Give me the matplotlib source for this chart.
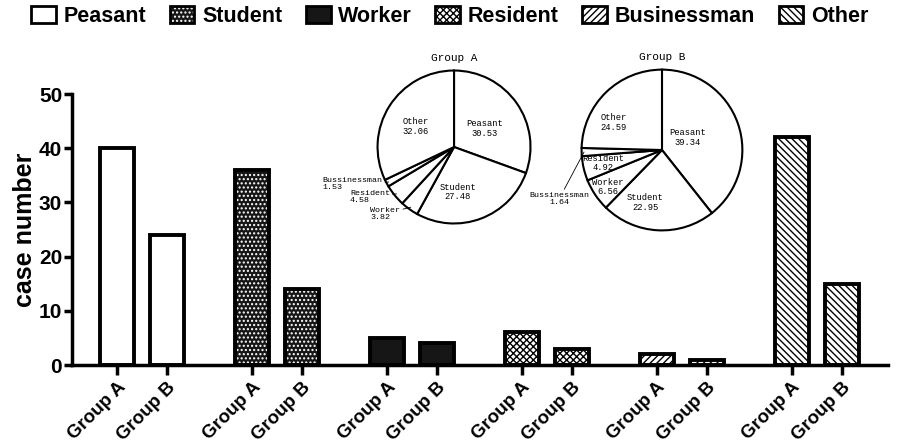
import numpy as np
import matplotlib.pyplot as plt
from matplotlib.patches import Patch

plt.rcParams['font.family'] = ['Liberation Sans', 'DejaVu Sans']
plt.rcParams['font.weight'] = 'bold'
plt.rcParams['hatch.linewidth'] = 1.0

# data
occupations = ['Peasant', 'Student', 'Worker', 'Resident', 'Businessman', 'Other']
pie_names = ['Peasant', 'Student', 'Worker', 'Resident', 'Bussinessman', 'Other']
group_a = [40, 36, 5, 6, 2, 42]
group_b = [24, 14, 4, 3, 1, 15]
group_names = ['Group A', 'Group B']

# fill, hatch, hatch colour for each occupation
styles = [
    ('white', None, 'black'),
    ('#161616', '....', 'white'),
    ('#161616', None, '#161616'),
    ('white', 'xxxxx', 'black'),
    ('white', '/////', 'black'),
    ('white', '\\\\\\\\\\', 'black'),
]

fig = plt.figure(figsize=(9.03, 4.46), dpi=100)
ax = fig.add_axes([0.0797, 0.1816, 0.9033, 0.6076])

x_a = np.arange(len(occupations)) * 2.7
x_b = x_a + 1
width = 0.68
handles = []
for i, (face, hatch, hcol) in enumerate(styles):
    for xs, vals in ((x_a, group_a), (x_b, group_b)):
        ax.bar(xs[i], vals[i], width, color=face, hatch=hatch, edgecolor=hcol, linewidth=0)
        ax.bar(xs[i], vals[i], width, fill=False, edgecolor='black', linewidth=2.8)
    handles.append((Patch(facecolor=face, hatch=hatch, edgecolor=hcol, linewidth=0),
                    Patch(fill=False, edgecolor='black', linewidth=2)))

ticks = np.sort(np.concatenate([x_a, x_b]))
ax.set_xticks(ticks)
ax.set_xticklabels(group_names * len(occupations), rotation=45, ha='right', va='top',
                   rotation_mode='anchor', fontsize=13.5)
ax.set_xlim(-0.9, 15.42)
ax.set_ylim(0, 50)
ax.set_yticks(range(0, 51, 10))
ax.tick_params(axis='y', labelsize=15, width=2.5, length=6, pad=1)
ax.tick_params(axis='x', width=2.5, length=7, pad=3)
ax.set_ylabel('case number', fontsize=18, fontweight='bold', labelpad=1)
for s in ['top', 'right']:
    ax.spines[s].set_visible(False)
for s in ['left', 'bottom']:
    ax.spines[s].set_linewidth(2.5)

fig.legend(handles, occupations, loc='upper center', bbox_to_anchor=(0.498, 1.03), ncol=6,
           frameon=False, fontsize=15.5, handlelength=1.15, handleheight=0.85,
           handletextpad=0.35, columnspacing=1.1)

# pies
mono = 'Liberation Mono'
pie_specs = [
    ('Group A', group_a, [0.4164, 0.4955, 0.1728, 0.3498],
     [(0.40, 0.24), (0.05, -0.59), (-0.90, -0.87), (-1.10, -0.65), (-1.33, -0.49), (-0.50, 0.27)],
     [2, 3, 4]),
    ('Group B', group_b, [0.6423, 0.4798, 0.1816, 0.3677],
     [(0.32, 0.16), (-0.21, -0.65), (-0.67, -0.46), (-0.73, -0.16), (-1.28, -0.61), (-0.60, 0.34)],
     [4]),
]
for title, vals, rect, offsets, outside in pie_specs:
    pax = fig.add_axes(rect)
    wedges, _ = pax.pie(vals, startangle=90, counterclock=False, colors=['white'] * len(vals),
                        wedgeprops=dict(edgecolor='black', linewidth=1.5))
    pax.set_xlim(-1.02, 1.02)
    pax.set_ylim(-1.02, 1.02)
    pax.set_aspect('equal')
    pax.axis('off')
    pax.text(0, 1.1, title, ha='center', va='bottom', family=mono, fontsize=8, weight='normal')
    total = sum(vals)
    for i, w in enumerate(wedges):
        label = f'{pie_names[i]}\n{vals[i] / total * 100:.2f}'
        if i in outside:
            ang = np.deg2rad((w.theta1 + w.theta2) / 2)
            pax.annotate(label, xy=(0.97 * np.cos(ang), 0.97 * np.sin(ang)), xytext=offsets[i],
                         ha='center', va='center', multialignment='left' if len(outside) > 1 else 'center',
                         family=mono, fontsize=6, weight='normal', linespacing=1.0,
                         arrowprops=dict(arrowstyle='-', lw=0.6, shrinkA=0, shrinkB=0))
        else:
            pax.text(*offsets[i], label, ha='center', va='center', family=mono,
                     fontsize=6.3, weight='normal', linespacing=1.1)

fig.savefig('out.png', dpi=100)
